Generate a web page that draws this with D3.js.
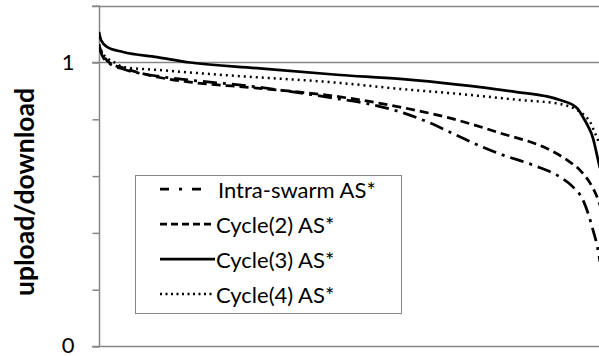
<!DOCTYPE html>
<html><head><meta charset="utf-8">
<script src="https://cdn.jsdelivr.net/npm/d3@7"></script>
<style>html,body{margin:0;padding:0;background:#fff;}svg{display:block;}</style>
</head><body>
<svg id="c" width="599" height="356"></svg>
<script>
// x: percentile rank (0-100), y: upload/download ratio
const seriesNames = ["Intra-swarm AS*", "Cycle(2) AS*", "Cycle(3) AS*", "Cycle(4) AS*"];
const intraX = [0,0.4,0.8,2.2,4.8,11.6,18.2,31.5,40.1,48.1,54.1,60.1,65.7,71.7,76.6,80.0,86.6,92.0,94.6,96.6,97.6,98.6,99.4,100];
const intraY = [1.055,1.034,1.019,0.995,0.977,0.952,0.938,0.914,0.893,0.871,0.853,0.826,0.790,0.741,0.702,0.678,0.639,0.597,0.562,0.516,0.470,0.410,0.357,0.298];
const cyc2X = [0,0.4,0.8,2.2,4.8,11.6,18.2,31.5,48.1,60.1,70.1,80.0,90.0,93.4,96.0,98.0,99.4,100];
const cyc2Y = [1.062,1.040,1.026,0.998,0.981,0.949,0.931,0.910,0.879,0.843,0.804,0.752,0.692,0.657,0.621,0.576,0.527,0.498];
const cyc3X = [0,0.4,1.6,4.8,11.6,18.2,31.5,48.1,60.1,72.1,83.4,89.0,92.0,95.4,96.6,97.6,98.6,99.4,100];
const cyc3Y = [1.107,1.079,1.055,1.037,1.019,1.000,0.980,0.956,0.942,0.921,0.896,0.882,0.868,0.840,0.808,0.776,0.734,0.674,0.628];
const cyc4X = [0,0.4,0.8,1.6,3.2,4.8,11.6,24.8,48.1,60.1,72.1,84.0,92.0,95.4,97.0,98.0,99.0,100];
const cyc4Y = [1.065,1.044,1.030,1.016,0.999,0.984,0.974,0.956,0.928,0.907,0.889,0.868,0.854,0.833,0.812,0.791,0.752,0.710];
const yTicks = [0,0.2,0.4,0.6,0.8,1.0,1.2];
const yTickLabels = {0:"0", 1:"1"};
const yTitle = "upload/download";

const svg = d3.select("#c");
const axisColor = "#868686";
const font = "Lato, 'Open Sans', sans-serif";
const x = d3.scaleLinear().domain([0,100]).range([99,600]);
const y = d3.scaleLinear().domain([0,1.2]).range([346.5,5.7]);

svg.append("clipPath").attr("id","clip").append("rect").attr("x",99).attr("y",0).attr("width",500).attr("height",356);

// gridlines at 1 and 1.2
svg.append("g").selectAll("line").data([1,1.2]).join("line")
  .attr("x1",92).attr("x2",599).attr("y1",d=>Math.round(y(d))+0.5).attr("y2",d=>Math.round(y(d))+0.5)
  .attr("stroke",axisColor).attr("stroke-width",1.5);

// left axis
const ax = svg.append("g").attr("transform","translate(99.5,0)")
  .call(d3.axisLeft(y).tickValues(yTicks).tickSize(7).tickPadding(16).tickFormat(d=>yTickLabels[d] !== undefined ? yTickLabels[d] : ""));
ax.select(".domain").attr("stroke",axisColor).attr("stroke-width",1.5).attr("d","M0,"+y(1.2)+"V"+y(0));
ax.selectAll(".tick line").attr("stroke",axisColor).attr("stroke-width",1.5);
ax.selectAll(".tick text").attr("font-family",font).attr("font-size",22).attr("fill","#000")
  .attr("dx",-2).attr("dy",d=>d===0?"0.25em":"0.32em");

// bottom axis
svg.append("line").attr("x1",92).attr("x2",599).attr("y1",y(0)).attr("y2",y(0)).attr("stroke",axisColor).attr("stroke-width",1.5);

// title
svg.append("text").attr("transform","translate(24,192) rotate(-90)")
  .attr("text-anchor","middle").attr("dominant-baseline","central")
  .attr("font-family",font).attr("font-weight","bold").attr("font-size",26.5).text(yTitle);

const styles = [
  {dash:"14,6,3,6", w:2.75, legDash:"9,10,3,10"},
  {dash:"9,5", w:2.75, legDash:"7,4"},
  {dash:null, w:2.75, legDash:null},
  {dash:"2,4", w:2.5, legDash:"2,3.5"}
];
const data = [[intraX,intraY],[cyc2X,cyc2Y],[cyc3X,cyc3Y],[cyc4X,cyc4Y]];
const line = d3.line().x(d=>x(d[0])).y(d=>y(d[1])).curve(d3.curveMonotoneX);
const g = svg.append("g").attr("clip-path","url(#clip)");
data.forEach((s,i)=>{
  const pts = s[0].map((v,j)=>[v,s[1][j]]);
  g.append("path").datum(pts).attr("d",line).attr("fill","none").attr("stroke","#000")
    .attr("stroke-width",styles[i].w).attr("stroke-dasharray",styles[i].dash).attr("stroke-linecap","butt");
});

// legend
const lg = svg.append("g");
lg.append("rect").attr("x",135.5).attr("y",175.5).attr("width",266).attr("height",138)
  .attr("fill","#fff").attr("stroke",axisColor).attr("stroke-width",1);
const rowY = [189,224,259,294];
seriesNames.forEach((n,i)=>{
  const x2 = i===0 ? 203 : 215;
  lg.append("line").attr("x1",160).attr("x2",x2).attr("y1",rowY[i]).attr("y2",rowY[i])
    .attr("stroke","#000").attr("stroke-width",styles[i].w).attr("stroke-dasharray",styles[i].legDash);
  lg.append("text").attr("x",i===0?218:216).attr("y",rowY[i]).attr("dominant-baseline","central")
    .attr("font-family",font).attr("font-size",22).text(n);
});
</script>
</body></html>
